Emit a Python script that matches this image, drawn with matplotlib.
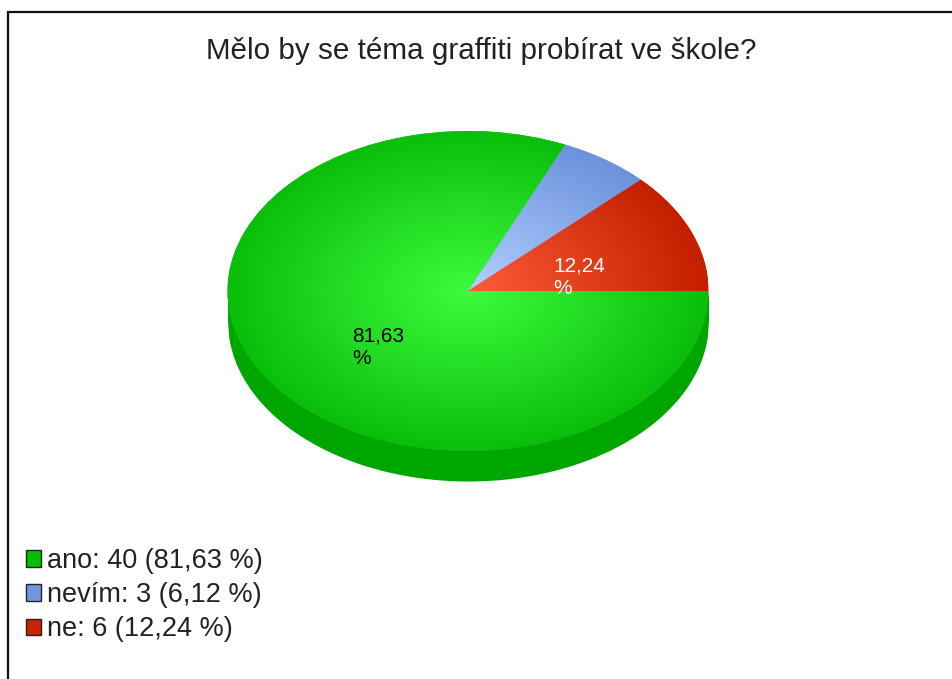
import numpy as np
from matplotlib import pyplot as plt
from matplotlib.colors import LinearSegmentedColormap
from matplotlib.patches import Patch

plt.rcParams['font.family'] = ['Liberation Sans', 'DejaVu Sans']

title = 'Mělo by se téma graffiti probírat ve škole?'
categories = ['ano', 'nevím', 'ne']
counts = [40, 3, 6]
percents = ['81,63', '6,12', '12,24']

edge_colors = ['#0abf0a', '#6c92dc', '#c42000']
center_colors = ['#3efb3e', '#b2d0ff', '#ff5c38']
legend_colors = ['#00c000', '#6f97e0', '#cc2200']
side_color = '#00a600'

W, H = 953, 679
fig = plt.figure(figsize=(W / 100, H / 100), dpi=100)

# outer frame, only left and top are visible in the screenshot
bg = fig.add_axes([0, 0, 1, 1])
bg.set_xlim(0, W)
bg.set_ylim(H, 0)
bg.axis('off')
bg.plot([8, 8, W], [H, 11.5, 11.5], color='#111111', lw=1.6, solid_joinstyle='miter')
bg.text(481, 51, title, fontsize=21.3, color='#222222', ha='center', va='center')

# pie axes covers exactly the top ellipse
cx, cy, rx, ry, depth = 468, 291, 240.5, 160, 30
ax = fig.add_axes([(cx - rx) / W, 1 - (cy + ry + depth) / H,
                   2 * rx / W, (2 * ry + depth) / H])

# side starts at the middle so no white seam shows under the slices
x = np.linspace(-1, 1, 400)
low = -np.sqrt(1 - x ** 2)
ax.fill_between(x, low * 0.5, low - depth / ry, color=side_color, lw=0)

wedges, _ = ax.pie(counts, startangle=0, counterclock=False, radius=1,
                   colors=edge_colors, wedgeprops={'lw': 0})
ax.set_aspect('auto')

# radial shading of each slice
gx, gy = np.meshgrid(np.linspace(-1, 1, 500), np.linspace(-1, 1, 400))
dist = np.clip(np.hypot(gx, gy), 0, 1)
for wedge, c0, c1 in zip(wedges, center_colors, edge_colors):
    cmap = LinearSegmentedColormap.from_list('shade', [c0, c1])
    im = ax.imshow(dist, extent=(-1, 1, -1, 1), origin='lower', cmap=cmap,
                   vmin=0, vmax=1, aspect='auto', zorder=2)
    im.set_clip_path(wedge)
ax.set_xlim(-1, 1)
ax.set_ylim(-1 - depth / ry, 1)

bg.set_zorder(1)
bg.patch.set_visible(False)
bg.text(352, 347, percents[0] + '\n%', fontsize=15, color='black',
        ha='left', va='center', linespacing=1.22)
bg.text(553, 277, percents[2] + '\n%', fontsize=15, color='white',
        ha='left', va='center', linespacing=1.22)

labels = [f'{c}: {n} ({p} %)' for c, n, p in zip(categories, counts, percents)]
handles = [Patch(facecolor=c, edgecolor='#222222', lw=1) for c in legend_colors]
fig.legend(handles, labels, loc='upper left', bbox_to_anchor=(18 / W, 1 - 540 / H),
           bbox_transform=fig.transFigure, frameon=False, fontsize=19.5,
           labelcolor='#222222', handlelength=0.56, handleheight=0.56,
           handletextpad=0.22, labelspacing=0.3, borderpad=0, borderaxespad=0.3)

fig.savefig('out.png', dpi=100)
